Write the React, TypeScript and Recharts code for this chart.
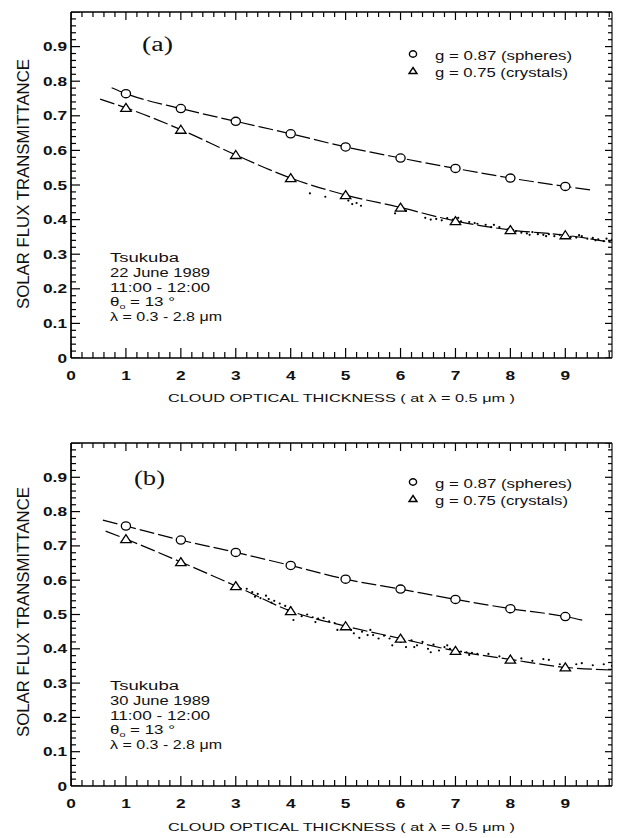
import React from 'react';
import { ComposedChart, Line, Scatter, XAxis, YAxis } from 'recharts';

// model points (optical thickness 1..9)
const TAU = [1, 2, 3, 4, 5, 6, 7, 8, 9];

const A_SPHERES = [0.764, 0.721, 0.684, 0.648, 0.61, 0.578, 0.548, 0.52, 0.496];
const A_CRYSTALS = [0.723, 0.66, 0.587, 0.52, 0.471, 0.435, 0.396, 0.37, 0.355];
const A_SPHERE_ENDS = [{ x: 0.74, y: 0.781 }, { x: 9.45, y: 0.486 }];
const A_CRYSTAL_ENDS = [{ x: 0.53, y: 0.748 }, { x: 9.85, y: 0.334 }];

const B_SPHERES = [0.758, 0.717, 0.681, 0.643, 0.603, 0.574, 0.544, 0.517, 0.494];
const B_CRYSTALS = [0.72, 0.653, 0.583, 0.51, 0.466, 0.43, 0.394, 0.369, 0.346];
const B_SPHERE_ENDS = [{ x: 0.58, y: 0.775 }, { x: 9.35, y: 0.482 }];
const B_CRYSTAL_ENDS = [{ x: 0.63, y: 0.743 }, { x: 9.85, y: 0.338 }];

// observed transmittance (dots)
const A_OBS_X = [4.35, 4.63, 5.05, 5.12, 5.2, 5.28, 5.9, 6.1, 6.45, 6.55, 6.65, 6.75, 6.85, 6.95, 7.1, 7.25, 7.4, 7.55, 7.7, 7.8, 7.95, 8.1, 8.2, 8.3, 8.4, 8.5, 8.6, 8.7, 8.8, 8.9, 9.0, 9.1, 9.2, 9.3, 9.4, 9.5, 9.6, 9.7, 9.8, 9.85, 7.05, 7.35, 7.65, 8.05, 8.35, 8.65, 8.95, 9.25, 9.55, 9.75];
const A_OBS_Y = [0.476, 0.466, 0.455, 0.445, 0.448, 0.44, 0.418, 0.425, 0.405, 0.4, 0.402, 0.398, 0.404, 0.4, 0.395, 0.393, 0.388, 0.385, 0.385, 0.378, 0.372, 0.366, 0.362, 0.36, 0.364, 0.358, 0.356, 0.358, 0.352, 0.356, 0.352, 0.35, 0.348, 0.352, 0.345, 0.347, 0.343, 0.338, 0.336, 0.342, 0.405, 0.39, 0.378, 0.37, 0.356, 0.352, 0.348, 0.355, 0.34, 0.345];

const B_OBS_X = [3.2, 3.3, 3.4, 3.45, 3.55, 3.6, 3.7, 3.8, 3.9, 4.0, 4.05, 4.2, 4.3, 4.4, 4.5, 4.6, 4.7, 4.8, 4.85, 5.1, 5.15, 5.3, 5.4, 5.5, 5.6, 5.7, 5.8, 5.85, 6.0, 6.1, 6.2, 6.3, 6.4, 6.5, 6.6, 6.7, 6.8, 6.9, 7.1, 7.2, 7.3, 7.4, 7.6, 7.8, 8.2, 8.4, 8.6, 8.7, 8.9, 9.2, 9.3, 9.5, 9.7, 9.85, 3.35, 3.65, 3.95, 4.45, 4.95, 5.25, 5.45, 5.95, 6.25, 6.55, 6.85, 7.25];
const B_OBS_Y = [0.575, 0.565, 0.56, 0.548, 0.555, 0.545, 0.54, 0.532, 0.525, 0.52, 0.484, 0.495, 0.5, 0.492, 0.488, 0.49, 0.48, 0.475, 0.455, 0.455, 0.445, 0.45, 0.44, 0.44, 0.43, 0.438, 0.43, 0.41, 0.42, 0.405, 0.425, 0.41, 0.42, 0.4, 0.412, 0.395, 0.405, 0.4, 0.392, 0.39, 0.388, 0.385, 0.385, 0.378, 0.372, 0.365, 0.37, 0.368, 0.355, 0.355, 0.358, 0.352, 0.355, 0.35, 0.552, 0.535, 0.512, 0.478, 0.46, 0.432, 0.455, 0.425, 0.405, 0.39, 0.41, 0.382];

const X_LABELS = [0, 1, 2, 3, 4, 5, 6, 7, 8, 9];
const Y_LABELS = [0, 0.1, 0.2, 0.3, 0.4, 0.5, 0.6, 0.7, 0.8, 0.9];

const X_MAX = 9.85;
const xTicks: number[] = [];
for (let i = 0; i * 0.2 <= X_MAX; i++) xTicks.push(Math.round(i * 20) / 100);
const yTicks: number[] = [];
for (let i = 0; i <= 50; i++) yTicks.push(Math.round(i * 2) / 100);

const FONT = '"Liberation Sans", Arial, Helvetica, sans-serif';

const near = (list: number[], v: number) => list.some((l) => Math.abs(l - v) < 1e-6);
const X_MAJOR = xTicks.filter((v) => near(X_LABELS, v));
const X_MINOR = xTicks.filter((v) => !near(X_LABELS, v));
const Y_MAJOR = yTicks.filter((v) => near(Y_LABELS, v) || v > 0.99);
const Y_MINOR = yTicks.filter((v) => !(near(Y_LABELS, v) || v > 0.99));

const pts = (ys: number[]) => ys.map((y, i) => ({ x: TAU[i], y }));
const curve = (ys: number[], ends: { x: number; y: number }[]) => [ends[0], ...pts(ys), ends[1]];
const obs = (xs: number[], ys: number[]) => xs.map((x, i) => ({ x, y: ys[i] }));
const onX = (xs: number[], y: number) => xs.map((x) => ({ x, y }));
const onY = (ys: number[], x: number) => ys.map((y) => ({ x, y }));

// tick labels only
const labelTick = (side: string) => (props: any) => {
  const x = Number(props.x);
  const y = Number(props.y);
  const v = Number(props.payload.value);
  if (side === 'bottom') {
    if (!near(X_LABELS, v)) return <g />;
    return (
      <text transform={`translate(${x},${y + 22}) scale(1.38,1)`} textAnchor="middle"
        fontSize={12.5} fontWeight="bold" fontFamily={FONT} fill="#111">{String(v)}</text>
    );
  }
  if (!near(Y_LABELS, v)) return <g />;
  return (
    <text transform={`translate(${x - 4},${y + 4.5}) scale(1.38,1)`} textAnchor="end"
      fontSize={12.5} fontWeight="bold" fontFamily={FONT} fill="#111">{String(v)}</text>
  );
};

// inward tick mark drawn at a scaled axis position
const tickShape = (dx: number, dy: number) => (p: any) => (
  <path d={`M${p.cx},${p.cy}l${dx},${dy}`} stroke="#000" strokeWidth={1.2} fill="none" />
);

const circleShape = (p: any) => (
  <ellipse cx={p.cx} cy={p.cy} rx={4.6} ry={4.1} fill="#fff" stroke="#000" strokeWidth={1.3} />
);
const triShape = (p: any) => (
  <path d={`M${p.cx},${p.cy - 4.4} L${p.cx + 5.2},${p.cy + 3.6} L${p.cx - 5.2},${p.cy + 3.6} Z`}
    fill="#fff" stroke="#000" strokeWidth={1.3} />
);
const dotShape = (p: any) => <circle cx={p.cx} cy={p.cy} r={1.1} fill="#000" />;

interface PanelProps {
  spheres: number[];
  crystals: number[];
  sphereEnds: { x: number; y: number }[];
  crystalEnds: { x: number; y: number }[];
  obsX: number[];
  obsY: number[];
  height: number;
  top: number;
  bottom: number;
}

const TICK_SETS = [
  { data: onX(X_MAJOR, 0), shape: tickShape(0, -10) },
  { data: onX(X_MINOR, 0), shape: tickShape(0, -6) },
  { data: onX(X_MAJOR, 1), shape: tickShape(0, 8) },
  { data: onX(X_MINOR, 1), shape: tickShape(0, 5) },
  { data: onY(Y_MAJOR, 0), shape: tickShape(9, 0) },
  { data: onY(Y_MINOR, 0), shape: tickShape(5, 0) },
  { data: onY(Y_MAJOR, X_MAX), shape: tickShape(-7, 0) },
  { data: onY(Y_MINOR, X_MAX), shape: tickShape(-4, 0) },
];

function Panel(p: PanelProps) {
  const axisLine = { stroke: '#000', strokeWidth: 1.7 };
  return (
    <ComposedChart width={618} height={p.height} margin={{ top: 0, right: 0, bottom: 0, left: 0 }}>
      <XAxis xAxisId="b" dataKey="x" type="number" domain={[0, X_MAX]} ticks={xTicks} interval={0}
        allowDataOverflow orientation="bottom" height={p.bottom} tickSize={0} tickMargin={0}
        tickLine={false} axisLine={axisLine} tick={labelTick('bottom')} />
      <XAxis xAxisId="t" dataKey="x" type="number" domain={[0, X_MAX]} allowDataOverflow orientation="top"
        height={p.top} tick={false} tickLine={false} axisLine={axisLine} />
      <YAxis yAxisId="l" dataKey="y" type="number" domain={[0, 1]} ticks={yTicks} interval={0}
        allowDataOverflow orientation="left" width={71} tickSize={0} tickMargin={0}
        tickLine={false} axisLine={axisLine} tick={labelTick('left')} />
      <YAxis yAxisId="r" dataKey="y" type="number" domain={[0, 1]} allowDataOverflow orientation="right"
        width={6} tick={false} tickLine={false} axisLine={{ stroke: '#222', strokeWidth: 1.3 }} />
      {TICK_SETS.map((s, i) => (
        <Scatter key={'tk' + i} xAxisId="b" yAxisId="l" data={s.data} dataKey="y" shape={s.shape}
          isAnimationActive={false} />
      ))}
      <Line xAxisId="b" yAxisId="l" data={curve(p.spheres, p.sphereEnds)} dataKey="y" type="monotone"
        stroke="#000" strokeWidth={1.2} strokeDasharray="15 4" dot={false} isAnimationActive={false} />
      <Line xAxisId="b" yAxisId="l" data={curve(p.crystals, p.crystalEnds)} dataKey="y" type="monotone"
        stroke="#000" strokeWidth={1.2} strokeDasharray="15 4" dot={false} isAnimationActive={false} />
      <Scatter xAxisId="b" yAxisId="l" data={obs(p.obsX, p.obsY)} dataKey="y" shape={dotShape}
        isAnimationActive={false} />
      <Scatter xAxisId="b" yAxisId="l" data={pts(p.spheres)} dataKey="y" shape={circleShape}
        isAnimationActive={false} />
      <Scatter xAxisId="b" yAxisId="l" data={pts(p.crystals)} dataKey="y" shape={triShape}
        isAnimationActive={false} />
    </ComposedChart>
  );
}

function Labels({ dy, tag, tagX, tagY, date, titleY, legendY, noteY }: {
  dy: number; tag: string; tagX: number; tagY: number; date: string; titleY: number; legendY: number; noteY: number;
}) {
  const t = { fontFamily: FONT, fill: '#111', lengthAdjust: 'spacingAndGlyphs' as const };
  const notes = [
    { s: 'Tsukuba', w: 69 },
    { s: date, w: 100 },
    { s: '11:00 - 12:00', w: 100 },
    { s: 'theta', w: 65 },
    { s: 'λ = 0.3 - 2.8 μm', w: 112 },
  ];
  return (
    <g>
      <text x={tagX} y={tagY} fontFamily='"Liberation Serif", "Times New Roman", serif' fontSize={20}
        textLength={31} lengthAdjust="spacingAndGlyphs" fill="#111">{tag}</text>
      <ellipse cx={413} cy={legendY - 6} rx={3.6} ry={3.2} fill="#fff" stroke="#000" strokeWidth={1.4} />
      <text x={435} y={legendY} fontSize={12.5} textLength={137} {...t}>g = 0.87  (spheres)</text>
      <path d={`M413,${legendY + 7.5} L417,${legendY + 13.5} L409,${legendY + 13.5} Z`} fill="#fff"
        stroke="#000" strokeWidth={1.4} />
      <text x={435} y={legendY + 17} fontSize={12.5} textLength={133} {...t}>g = 0.75  (crystals)</text>
      {notes.map((n, i) =>
        n.s === 'theta' ? (
          <text key={i} x={110} y={noteY + i * 14.8} fontSize={12.5} textLength={n.w} {...t}>
            θ<tspan fontSize={8} dy={3}>o</tspan><tspan dy={-3}> = 13 °</tspan>
          </text>
        ) : (
          <text key={i} x={110} y={noteY + i * 14.8} fontSize={12.5} textLength={n.w} {...t}>{n.s}</text>
        )
      )}
      <text transform={`translate(29,${dy}) rotate(-90) scale(1,1.4)`} textAnchor="middle" fontSize={12}
        textLength={250} {...t}>SOLAR FLUX TRANSMITTANCE</text>
      <text x={168} y={titleY} fontSize={11.5} textLength={347} {...t}>
        CLOUD OPTICAL THICKNESS ( at λ = 0.5 μm )
      </text>
    </g>
  );
}

export default function App() {
  return (
    <div style={{ position: 'absolute', left: 0, top: 0, width: 618, height: 838, background: '#fff' }}>
      <svg width={618} height={838} style={{ position: 'absolute', left: 0, top: 0 }}>
        <Labels dy={184} tag="(a)" tagX={142} tagY={51} date="22 June 1989" titleY={402} legendY={60} noteY={262} />
        <Labels dy={612} tag="(b)" tagX={134} tagY={485} date="30 June 1989" titleY={831} legendY={488} noteY={690} />
      </svg>
      <div style={{ position: 'absolute', left: 0, top: 0 }}>
        <Panel spheres={A_SPHERES} crystals={A_CRYSTALS} sphereEnds={A_SPHERE_ENDS} crystalEnds={A_CRYSTAL_ENDS}
          obsX={A_OBS_X} obsY={A_OBS_Y} height={420} top={12} bottom={62} />
      </div>
      <div style={{ position: 'absolute', left: 0, top: 420 }}>
        <Panel spheres={B_SPHERES} crystals={B_CRYSTALS} sphereEnds={B_SPHERE_ENDS} crystalEnds={B_CRYSTAL_ENDS}
          obsX={B_OBS_X} obsY={B_OBS_Y} height={418} top={23} bottom={52} />
      </div>
    </div>
  );
}
